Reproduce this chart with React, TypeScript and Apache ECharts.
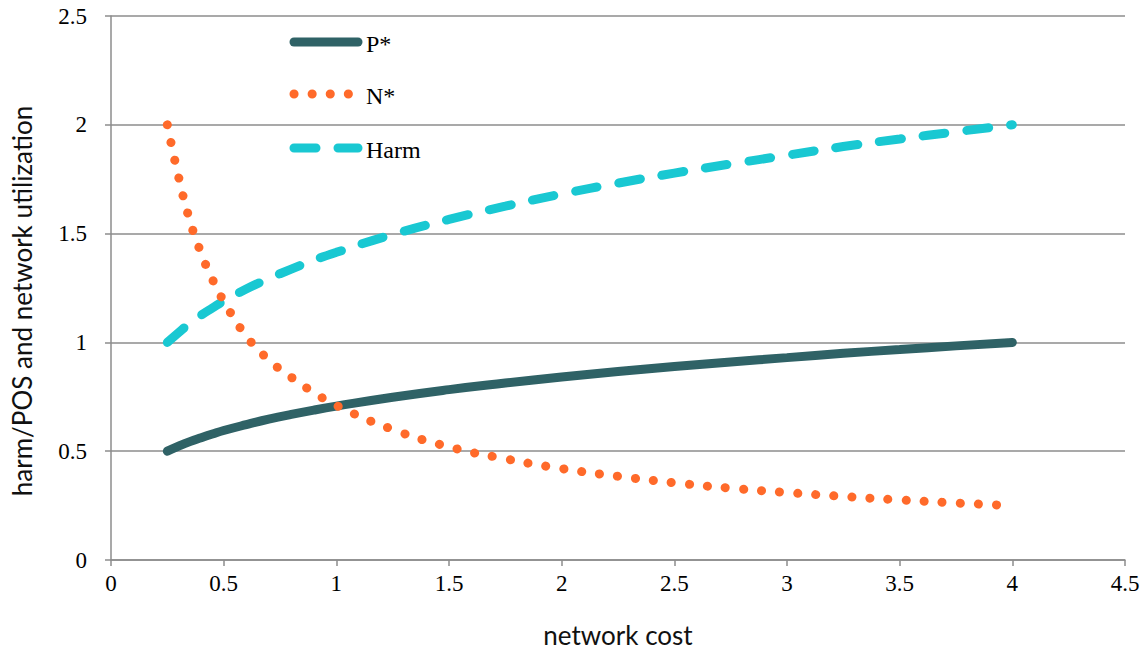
import React, { useEffect, useRef } from "react";
import * as echarts from "echarts";

const xValues = [0.25, 0.3, 0.35, 0.4, 0.45, 0.5, 0.6, 0.7, 0.8, 0.9, 1, 1.25, 1.5, 1.75, 2, 2.25, 2.5, 2.75, 3, 3.25, 3.5, 3.75, 4];
const pStar = [0.5, 0.523, 0.544, 0.562, 0.579, 0.595, 0.622, 0.647, 0.669, 0.689, 0.707, 0.748, 0.783, 0.813, 0.841, 0.866, 0.889, 0.91, 0.93, 0.95, 0.967, 0.984, 1.0];
const nStar = [2.0, 1.76, 1.56, 1.41, 1.29, 1.19, 1.03, 0.92, 0.84, 0.77, 0.71, 0.6, 0.52, 0.465, 0.42, 0.385, 0.355, 0.33, 0.31, 0.292, 0.276, 0.262, 0.25];
const harm = [1.0, 1.045, 1.088, 1.125, 1.158, 1.19, 1.245, 1.293, 1.337, 1.378, 1.414, 1.496, 1.565, 1.626, 1.682, 1.732, 1.778, 1.82, 1.86, 1.9, 1.935, 1.968, 2.0];

const seriesNames = ["P*", "N*", "Harm"];
const colors = ["#2f6266", "#ff6a2a", "#19c8d2"];

const pair = (ys: number[]) => xValues.map((x, i) => [x, ys[i]]);

export default function App() {
  const ref = useRef<HTMLDivElement>(null);
  useEffect(() => {
    if (!ref.current) return;
    const chart = echarts.init(ref.current, undefined, { renderer: "svg" });
    const serif = "'Liberation Serif', serif";
    const sans = "Lato, 'Open Sans', sans-serif";
    const dashes: any[] = ["solid", [0.1, 18], [22, 22]];
    const legendYs = [42, 94, 148];
    const legendGraphics: any[] = [];
    seriesNames.forEach((name, i) => {
      legendGraphics.push({
        type: "line",
        shape: { x1: 294, y1: legendYs[i], x2: 358, y2: legendYs[i] },
        style: {
          stroke: colors[i],
          lineWidth: 9,
          lineCap: "round",
          lineDash: i === 0 ? null : dashes[i],
        },
      });
      legendGraphics.push({
        type: "text",
        x: 366,
        y: legendYs[i] + 2,
        style: {
          text: name,
          font: `24px ${serif}`,
          fill: "#000",
          verticalAlign: "middle",
        },
      });
    });
    chart.setOption({
      animation: false,
      grid: { left: 111, right: 22, top: 16, bottom: 90, containLabel: false, outerBoundsMode: "none" },
      xAxis: {
        type: "value",
        min: 0,
        max: 4.5,
        interval: 0.5,
        name: "network cost",
        nameLocation: "middle",
        nameGap: 62,
        nameTextStyle: { fontFamily: sans, fontSize: 26, color: "#111" },
        axisLine: { show: true, lineStyle: { color: "#8c8c8c", width: 1.5 } },
        axisTick: { show: true, length: 6, lineStyle: { color: "#8c8c8c", width: 1.5 } },
        axisLabel: { fontFamily: serif, fontSize: 23, color: "#000", margin: 12 },
        splitLine: { show: false },
      },
      yAxis: {
        type: "value",
        min: 0,
        max: 2.5,
        interval: 0.5,
        name: "harm/POS and network utilization",
        nameLocation: "middle",
        nameGap: 76,
        nameTextStyle: { fontFamily: sans, fontSize: 26, color: "#111", padding: [0, 26, 0, 0] },
        axisLine: { show: true, lineStyle: { color: "#8c8c8c", width: 1.5 } },
        axisTick: { show: true, length: 6, lineStyle: { color: "#8c8c8c", width: 1.5 } },
        axisLabel: { fontFamily: serif, fontSize: 23, color: "#000", margin: 24 },
        splitLine: { show: true, lineStyle: { color: "#8c8c8c", width: 1.5 } },
      },
      series: [
        {
          name: "P*",
          type: "line",
          data: pair(pStar),
          smooth: true,
          showSymbol: false,
          lineStyle: { color: colors[0], width: 9, cap: "round" },
          z: 2,
        },
        {
          name: "Harm",
          type: "line",
          data: pair(harm),
          smooth: true,
          showSymbol: false,
          lineStyle: { color: colors[2], width: 9, type: dashes[2], cap: "round" },
          z: 3,
        },
        {
          name: "N*",
          type: "line",
          data: pair(nStar),
          smooth: true,
          showSymbol: false,
          lineStyle: { color: colors[1], width: 9, type: dashes[1], cap: "round" },
          z: 4,
        },
      ],
      graphic: legendGraphics,
    });
    return () => chart.dispose();
  }, []);
  return (
    <div
      ref={ref}
      style={{ position: "fixed", left: 0, top: 0, width: 1147, height: 650, background: "#fff" }}
    />
  );
}
